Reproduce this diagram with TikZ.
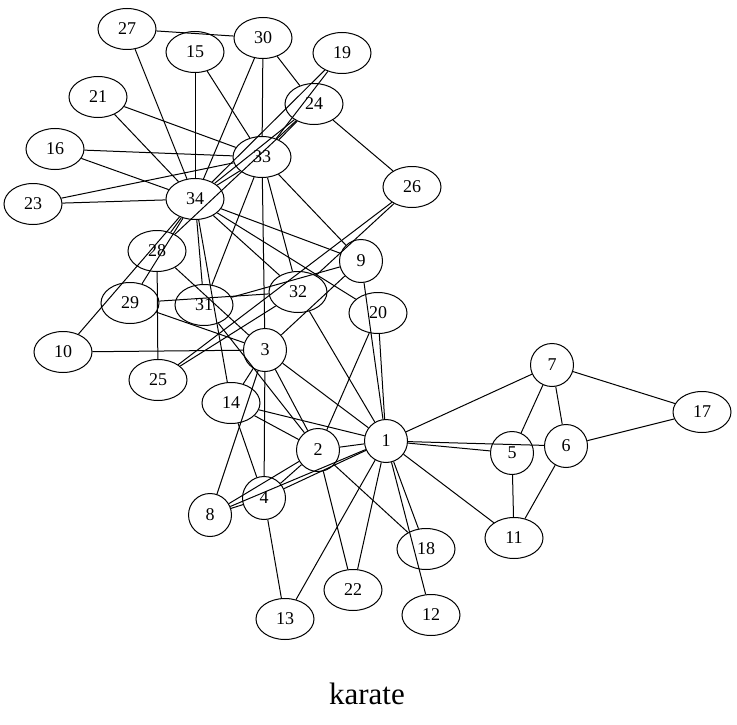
\documentclass[tikz,border=0pt]{standalone}
\usepackage{fontspec}
\setmainfont{Liberation Serif}
\usetikzlibrary{shapes.geometric}
\begin{document}
\begin{tikzpicture}[x=1pt,y=-1pt,
  every node/.style={font=\fontsize{18}{18}\selectfont},
  twod/.style={draw,ellipse,line width=1pt,minimum width=58pt,minimum height=41pt,inner sep=0pt},
  oned/.style={draw,circle,line width=1pt,minimum size=43pt,inner sep=0pt},
  edge/.style={line width=1pt}]
\useasboundingbox (0,0) rectangle (737,725);
\node[oned] (n1) at (386,441) {1};
\node[oned] (n2) at (318,450) {2};
\node[oned] (n3) at (265,350) {3};
\node[oned] (n4) at (264,498) {4};
\node[oned] (n5) at (512,453) {5};
\node[oned] (n6) at (566,446) {6};
\node[oned] (n7) at (552,365) {7};
\node[oned] (n8) at (210,515) {8};
\node[oned] (n9) at (361,261) {9};
\node[twod] (n10) at (63,352) {10};
\node[twod] (n11) at (514,538) {11};
\node[twod] (n12) at (431,615) {12};
\node[twod] (n13) at (285,619) {13};
\node[twod] (n14) at (231,403) {14};
\node[twod] (n15) at (195,52) {15};
\node[twod] (n16) at (55,149) {16};
\node[twod] (n17) at (702,412) {17};
\node[twod] (n18) at (426,549) {18};
\node[twod] (n19) at (342,53) {19};
\node[twod] (n20) at (378,313) {20};
\node[twod] (n21) at (98,97) {21};
\node[twod] (n22) at (353,590) {22};
\node[twod] (n23) at (33,204) {23};
\node[twod] (n24) at (314,104) {24};
\node[twod] (n25) at (158,380) {25};
\node[twod] (n26) at (412,187) {26};
\node[twod] (n27) at (127,29) {27};
\node[twod] (n28) at (157,251) {28};
\node[twod] (n29) at (130,303) {29};
\node[twod] (n30) at (263,38) {30};
\node[twod] (n31) at (204,305) {31};
\node[twod] (n32) at (298,292) {32};
\node[twod] (n33) at (262,157) {33};
\node[twod] (n34) at (195,199) {34};
\foreach \a/\b in {1/2,1/3,1/4,1/5,1/6,1/7,1/8,1/9,1/11,1/12,1/13,1/14,1/18,1/20,1/22,1/32,
  2/3,2/4,2/8,2/14,2/18,2/20,2/22,2/31,
  3/4,3/8,3/9,3/10,3/14,3/28,3/29,3/33,
  4/8,4/13,4/14,5/7,5/11,6/7,6/11,6/17,7/17,
  9/31,9/33,9/34,10/34,14/34,15/33,15/34,16/33,16/34,19/33,19/34,20/34,21/33,21/34,23/33,23/34,
  24/26,24/28,24/30,24/33,24/34,25/26,25/28,25/32,26/32,27/30,27/34,28/34,29/32,29/34,
  30/33,30/34,31/33,31/34,32/33,32/34,33/34}
  \draw[edge] (n\a) -- (n\b);
\node[font=\fontsize{31}{31}\selectfont] (title) at (367,694) {karate};
\end{tikzpicture}
\end{document}
